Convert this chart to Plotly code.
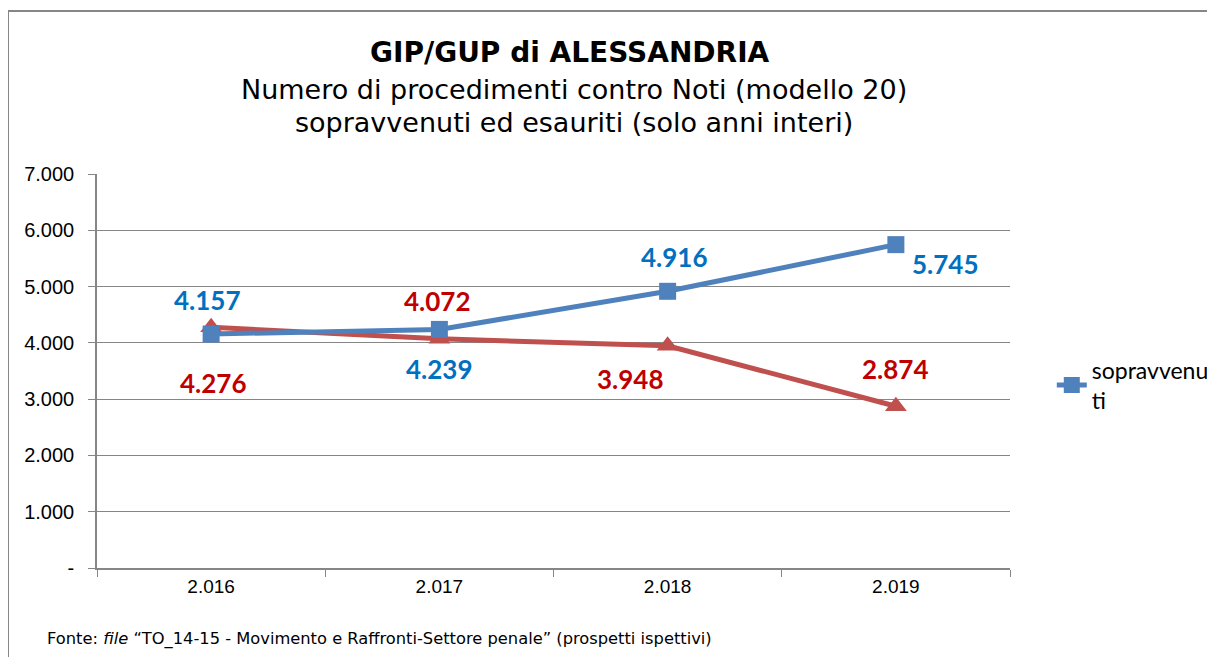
import plotly.graph_objects as go

categories = ["2.016", "2.017", "2.018", "2.019"]
sopravvenuti = [4157, 4239, 4916, 5745]
esauriti = [4276, 4072, 3948, 2874]
y_ticks = [0, 1000, 2000, 3000, 4000, 5000, 6000, 7000]
y_ticktext = ["-", "1.000", "2.000", "3.000", "4.000", "5.000", "6.000", "7.000"]

# label offsets (pixels) for each data point
sop_shift = [(-4, 34), (0, -40), (7, 34), (50, -19)]
esa_shift = [(2, -56), (-2, 38), (-37, -33), (0, 37)]

def fmt(v):
    return f"{v:,}".replace(",", ".")

fig = go.Figure()
fig.add_trace(go.Scatter(
    x=categories, y=esauriti, name="esauriti", mode="lines+markers",
    line=dict(color="#C0504D", width=5),
    marker=dict(symbol="triangle-up", size=19, color="#C0504D"),
    showlegend=False))
fig.add_trace(go.Scatter(
    x=categories, y=sopravvenuti, name="sopravvenu<br>ti", mode="lines+markers",
    line=dict(color="#4F81BD", width=5),
    marker=dict(symbol="square", size=17, color="#4F81BD")))

label_font = "Lato, Liberation Sans"
annotations = []
for i, (v, (dx, dy)) in enumerate(zip(sopravvenuti, sop_shift)):
    annotations.append(dict(x=i, y=v, text=fmt(v), showarrow=False, xshift=dx, yshift=dy,
                            font=dict(family=label_font, size=26, color="#0070C0", weight="bold")))
for i, (v, (dx, dy)) in enumerate(zip(esauriti, esa_shift)):
    annotations.append(dict(x=i, y=v, text=fmt(v), showarrow=False, xshift=dx, yshift=dy,
                            font=dict(family=label_font, size=26, color="#C00000", weight="bold")))

annotations += [
    dict(xref="paper", yref="paper", x=0.5, y=1.0, xshift=16, yshift=140, text="<b>GIP/GUP di ALESSANDRIA</b>",
         showarrow=False, font=dict(family="DejaVu Sans", size=28, color="black")),
    dict(xref="paper", yref="paper", x=0.5, y=1.0, xshift=20, yshift=102, text="Numero di procedimenti contro Noti (modello 20)",
         showarrow=False, font=dict(family="DejaVu Sans", size=27, color="black")),
    dict(xref="paper", yref="paper", x=0.5, y=1.0, xshift=20, yshift=69, text="sopravvenuti ed esauriti (solo anni interi)",
         showarrow=False, font=dict(family="DejaVu Sans", size=27, color="black")),
    dict(xref="paper", yref="paper", x=0, y=0, xshift=-52, yshift=-83, xanchor="left",
         text="Fonte: <i>file</i> “TO_14-15 - Movimento e Raffronti-Settore penale” (prospetti ispettivi)",
         showarrow=False, font=dict(family="DejaVu Sans", size=16.3, color="black")),
]

fig.update_layout(
    width=1207, height=649,
    margin=dict(l=89, r=205, t=166, b=89),
    paper_bgcolor="white", plot_bgcolor="white",
    annotations=annotations,
    showlegend=True,
    legend=dict(xref="container", yref="container", x=0.999, y=0.419,
                xanchor="right", yanchor="middle",
                font=dict(family="Lato, Liberation Sans", size=23, color="black"),
                itemwidth=30),
    shapes=[dict(type="rect", xref="paper", yref="paper", x0=-0.0975, x1=1.5, y0=-0.4, y1=1.4137,
                 line=dict(color="#868686", width=2), fillcolor="rgba(0,0,0,0)", layer="below")],
)
fig.update_xaxes(
    type="category", range=[-0.5, 3.5], showline=True, linecolor="#868686", linewidth=1.5,
    ticks="outside", tickson="boundaries", ticklen=7, tickcolor="#868686",
    showgrid=False, tickfont=dict(family="Liberation Sans, Arial", size=19, color="black"))
fig.update_yaxes(
    range=[0, 7000], tickvals=y_ticks, ticktext=y_ticktext, showline=True,
    linecolor="#868686", linewidth=1.5, ticks="outside", ticklen=7, tickcolor="#868686",
    showgrid=True, gridcolor="#868686", gridwidth=1, zeroline=False,
    ticklabelstandoff=10,
    tickfont=dict(family="Liberation Sans, Arial", size=20, color="black"))

fig.write_html("out.html")
